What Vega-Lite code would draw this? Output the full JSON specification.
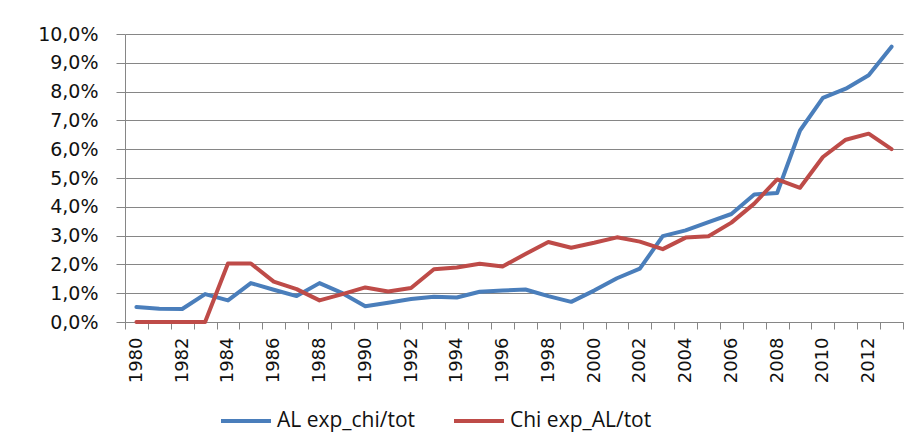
{
  "$schema": "https://vega.github.io/schema/vega-lite/v6.json",
  "width": 778,
  "height": 288,
  "autosize": {"type": "none"},
  "padding": {"left": 125, "top": 34, "right": 19, "bottom": 124},
  "background": "white",
  "config": {
    "view": {"stroke": null},
    "font": "DejaVu Sans"
  },
  "data": {
    "values": [
      {"year": 1980, "series": "AL exp_chi/tot", "value": 0.0052},
      {"year": 1981, "series": "AL exp_chi/tot", "value": 0.0046},
      {"year": 1982, "series": "AL exp_chi/tot", "value": 0.0045},
      {"year": 1983, "series": "AL exp_chi/tot", "value": 0.0097},
      {"year": 1984, "series": "AL exp_chi/tot", "value": 0.0075},
      {"year": 1985, "series": "AL exp_chi/tot", "value": 0.0135},
      {"year": 1986, "series": "AL exp_chi/tot", "value": 0.0112},
      {"year": 1987, "series": "AL exp_chi/tot", "value": 0.0090},
      {"year": 1988, "series": "AL exp_chi/tot", "value": 0.0135},
      {"year": 1989, "series": "AL exp_chi/tot", "value": 0.0100},
      {"year": 1990, "series": "AL exp_chi/tot", "value": 0.0055},
      {"year": 1991, "series": "AL exp_chi/tot", "value": 0.0067},
      {"year": 1992, "series": "AL exp_chi/tot", "value": 0.0080},
      {"year": 1993, "series": "AL exp_chi/tot", "value": 0.0088},
      {"year": 1994, "series": "AL exp_chi/tot", "value": 0.0085},
      {"year": 1995, "series": "AL exp_chi/tot", "value": 0.0105},
      {"year": 1996, "series": "AL exp_chi/tot", "value": 0.0109},
      {"year": 1997, "series": "AL exp_chi/tot", "value": 0.0113},
      {"year": 1998, "series": "AL exp_chi/tot", "value": 0.0090},
      {"year": 1999, "series": "AL exp_chi/tot", "value": 0.0070},
      {"year": 2000, "series": "AL exp_chi/tot", "value": 0.0109},
      {"year": 2001, "series": "AL exp_chi/tot", "value": 0.0152},
      {"year": 2002, "series": "AL exp_chi/tot", "value": 0.0185},
      {"year": 2003, "series": "AL exp_chi/tot", "value": 0.0298},
      {"year": 2004, "series": "AL exp_chi/tot", "value": 0.0318},
      {"year": 2005, "series": "AL exp_chi/tot", "value": 0.0347},
      {"year": 2006, "series": "AL exp_chi/tot", "value": 0.0375},
      {"year": 2007, "series": "AL exp_chi/tot", "value": 0.0443},
      {"year": 2008, "series": "AL exp_chi/tot", "value": 0.0448},
      {"year": 2009, "series": "AL exp_chi/tot", "value": 0.0665},
      {"year": 2010, "series": "AL exp_chi/tot", "value": 0.0778},
      {"year": 2011, "series": "AL exp_chi/tot", "value": 0.0810},
      {"year": 2012, "series": "AL exp_chi/tot", "value": 0.0857},
      {"year": 2013, "series": "AL exp_chi/tot", "value": 0.0956},
      {"year": 1980, "series": "Chi exp_AL/tot", "value": 0.0},
      {"year": 1981, "series": "Chi exp_AL/tot", "value": 0.0},
      {"year": 1982, "series": "Chi exp_AL/tot", "value": 0.0},
      {"year": 1983, "series": "Chi exp_AL/tot", "value": 0.0},
      {"year": 1984, "series": "Chi exp_AL/tot", "value": 0.0203},
      {"year": 1985, "series": "Chi exp_AL/tot", "value": 0.0203},
      {"year": 1986, "series": "Chi exp_AL/tot", "value": 0.0140},
      {"year": 1987, "series": "Chi exp_AL/tot", "value": 0.0114},
      {"year": 1988, "series": "Chi exp_AL/tot", "value": 0.0075},
      {"year": 1989, "series": "Chi exp_AL/tot", "value": 0.0097},
      {"year": 1990, "series": "Chi exp_AL/tot", "value": 0.0120},
      {"year": 1991, "series": "Chi exp_AL/tot", "value": 0.0106},
      {"year": 1992, "series": "Chi exp_AL/tot", "value": 0.0118},
      {"year": 1993, "series": "Chi exp_AL/tot", "value": 0.0183},
      {"year": 1994, "series": "Chi exp_AL/tot", "value": 0.0189},
      {"year": 1995, "series": "Chi exp_AL/tot", "value": 0.0202},
      {"year": 1996, "series": "Chi exp_AL/tot", "value": 0.0193},
      {"year": 1997, "series": "Chi exp_AL/tot", "value": 0.0236},
      {"year": 1998, "series": "Chi exp_AL/tot", "value": 0.0278},
      {"year": 1999, "series": "Chi exp_AL/tot", "value": 0.0258},
      {"year": 2000, "series": "Chi exp_AL/tot", "value": 0.0275},
      {"year": 2001, "series": "Chi exp_AL/tot", "value": 0.0294},
      {"year": 2002, "series": "Chi exp_AL/tot", "value": 0.0279},
      {"year": 2003, "series": "Chi exp_AL/tot", "value": 0.0253},
      {"year": 2004, "series": "Chi exp_AL/tot", "value": 0.0293},
      {"year": 2005, "series": "Chi exp_AL/tot", "value": 0.0298},
      {"year": 2006, "series": "Chi exp_AL/tot", "value": 0.0345},
      {"year": 2007, "series": "Chi exp_AL/tot", "value": 0.0411},
      {"year": 2008, "series": "Chi exp_AL/tot", "value": 0.0495},
      {"year": 2009, "series": "Chi exp_AL/tot", "value": 0.0466},
      {"year": 2010, "series": "Chi exp_AL/tot", "value": 0.0573},
      {"year": 2011, "series": "Chi exp_AL/tot", "value": 0.0633},
      {"year": 2012, "series": "Chi exp_AL/tot", "value": 0.0654},
      {"year": 2013, "series": "Chi exp_AL/tot", "value": 0.0600}
    ]
  },
  "mark": {"type": "line", "strokeWidth": 4, "strokeJoin": "round", "strokeCap": "round"},
  "encoding": {
    "x": {
      "field": "year",
      "type": "ordinal",
      "scale": {"paddingInner": 0, "paddingOuter": 0},
      "axis": {
        "title": null,
        "tickBand": "extent",
        "labelAngle": 270,
        "labelAlign": "right",
        "labelBaseline": "middle",
        "labelExpr": "datum.value % 2 == 0 ? datum.label : ''",
        "labelFont": "DejaVu Sans",
        "labelFontSize": 18,
        "labelColor": "#111111",
        "labelPadding": 8,
        "tickSize": 7,
        "tickColor": "#868686",
        "domainColor": "#868686",
        "domainWidth": 1,
        "tickWidth": 1,
        "grid": false,
        "labelOverlap": false
      }
    },
    "y": {
      "field": "value",
      "type": "quantitative",
      "scale": {"domain": [0, 0.1], "nice": false},
      "axis": {
        "title": null,
        "values": [0, 0.01, 0.02, 0.03, 0.04, 0.05, 0.06, 0.07, 0.08, 0.09, 0.1],
        "labelExpr": "replace(format(datum.value, '.1%'), '.', ',')",
        "labelFont": "DejaVu Sans",
        "labelFontSize": 19,
        "labelColor": "#111111",
        "labelPadding": 18,
        "tickSize": 9,
        "tickColor": "#868686",
        "domainColor": "#868686",
        "grid": true,
        "gridColor": "#868686",
        "gridWidth": 1,
        "gridOpacity": 1
      }
    },
    "color": {
      "field": "series",
      "type": "nominal",
      "scale": {"domain": ["AL exp_chi/tot", "Chi exp_AL/tot"], "range": ["#4A7EBB", "#BE4B48"]},
      "legend": {
        "title": null,
        "orient": "none",
        "direction": "horizontal",
        "legendX": 94,
        "legendY": 360,
        "symbolType": "stroke",
        "symbolSize": 2500,
        "symbolStrokeWidth": 4,
        "labelFont": "Open Sans",
        "labelFontSize": 21,
        "labelColor": "#111111",
        "labelOffset": 4,
        "columnPadding": 30,
        "padding": 0,
        "labelLimit": 300
      }
    }
  }
}
